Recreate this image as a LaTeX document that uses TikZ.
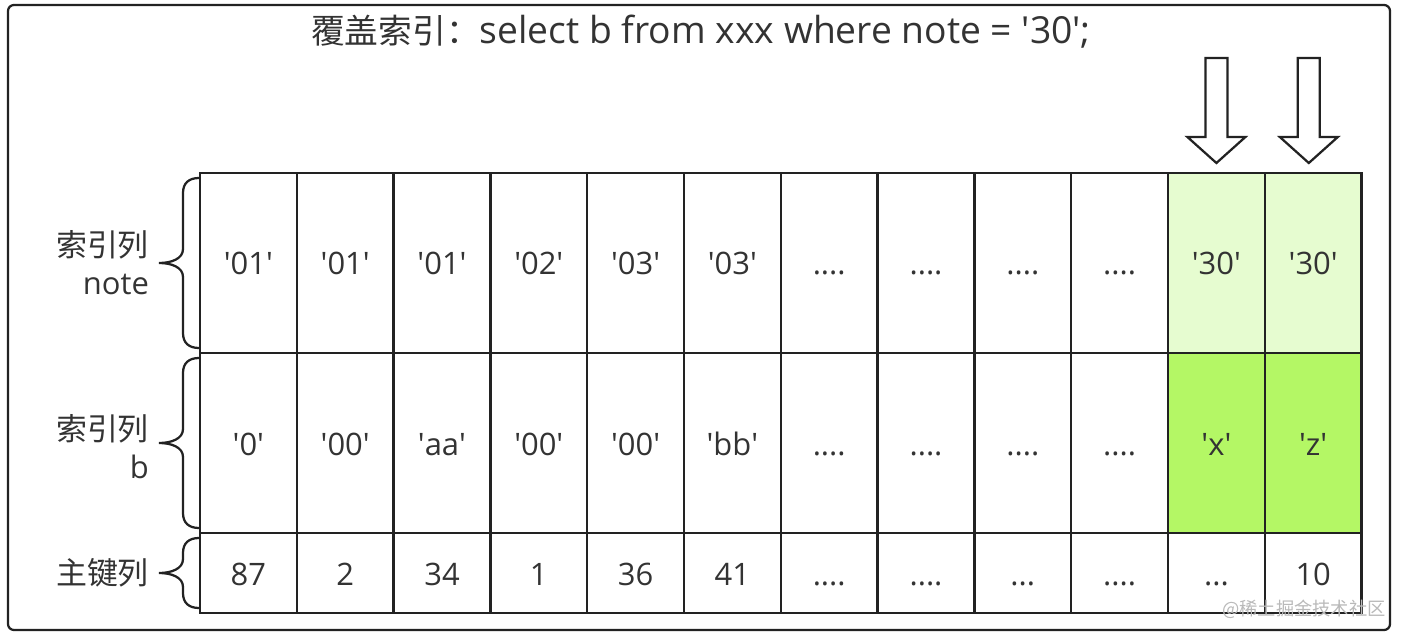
\documentclass[tikz,border=0pt]{standalone}
\usepackage{fontspec}
\setmainfont{Open Sans}
\newfontfamily\cjk{Noto Sans CJK SC}

\definecolor{ink}{HTML}{333333}
\definecolor{frame}{HTML}{222222}
\definecolor{hitlight}{HTML}{E6FCD0}
\definecolor{hitdark}{HTML}{B4F765}

\newcommand{\qt}[1]{\textquotesingle#1\textquotesingle}
\newcommand{\fourdots}{....}
\newcommand{\threedots}{...}

\tikzset{
	cell/.style={draw=frame, minimum width=24.2mm, inner sep=0pt, outer sep=0pt,
		text height=6mm, text depth=0pt, text=ink, font=\fontsize{22}{27}\selectfont},
	tallcell/.style={cell, minimum height=45mm},
	keycell/.style={cell, minimum height=20mm},
	rowlabel/.style={anchor=east, align=right, inner sep=0pt, text=ink,
		font=\fontsize{22}{27}\selectfont},
	bracepath/.style={draw=frame, line cap=round},
	hollowarrow/.style={draw=frame, fill=white, line join=miter},
}

\begin{document}
\begin{tikzpicture}[line cap=rect,line width=1.6pt]

\useasboundingbox (0,0) rectangle (350.75mm,159.25mm);

% Outer frame
\draw[draw=frame, rounded corners=1.5mm] (2mm,1.75mm) rectangle (347.5mm,158mm);

% Query title
\node[text=ink, font=\fontsize{26.5}{30}\selectfont] (title) at (175.25mm,151.25mm)
	{{\cjk\fontsize{24}{30}\selectfont 覆盖索引：}select b from xxx where note = \qt{30};};

% Index rows and key row
\begin{scope}[shift={(50mm,0)}]
	\foreach \val/\bg [count=\i] in
		{\qt{01}/white,\qt{01}/white,\qt{01}/white,\qt{02}/white,\qt{03}/white,\qt{03}/white,
		\fourdots/white,\fourdots/white,\fourdots/white,\fourdots/white,\qt{30}/hitlight,\qt{30}/hitlight}
	{
		\node[tallcell, fill=\bg] (n\i) at ({(\i-0.5)*24.2mm},93.5mm) {\val};
	}
	\foreach \val/\bg [count=\i] in
		{\qt{0}/white,\qt{00}/white,\qt{aa}/white,\qt{00}/white,\qt{00}/white,\qt{bb}/white,
		\fourdots/white,\fourdots/white,\fourdots/white,\fourdots/white,\qt{x}/hitdark,\qt{z}/hitdark}
	{
		\node[tallcell, fill=\bg] (b\i) at ({(\i-0.5)*24.2mm},48.5mm) {\val};
	}
	\foreach \val [count=\i] in
		{87,2,34,1,36,41,\fourdots,\fourdots,\threedots,\fourdots,\threedots,10}
	{
		\node[keycell] (k\i) at ({(\i-0.5)*24.2mm},16mm) {\val};
	}
\end{scope}

% Row braces
\foreach \r in {n1,b1,k1}
{
	\draw[bracepath] ([xshift=-0.25mm,yshift=-1.25mm]\r.north west)
		.. controls +(-2.5mm,0) and +(0,2.5mm) .. ([xshift=-4.25mm,yshift=-5mm]\r.north west)
		-- ([xshift=-4.25mm,yshift=3.5mm]\r.west)
		.. controls +(0,-2.5mm) and +(3mm,0) .. ([xshift=-10.25mm]\r.west)
		.. controls +(3mm,0) and +(0,2.5mm) .. ([xshift=-4.25mm,yshift=-3.5mm]\r.west)
		-- ([xshift=-4.25mm,yshift=5mm]\r.south west)
		.. controls +(0,-2.5mm) and +(-2.5mm,0) .. ([xshift=-0.25mm,yshift=1.25mm]\r.south west);
}

% Row labels
\node[rowlabel] (lnote) at ([xshift=-12.5mm]n1.west) {{\cjk 索引列}\\note};
\node[rowlabel] (lb) at ([xshift=-12.5mm,yshift=-0.9mm]b1.west) {{\cjk 索引列}\\b};
\node[rowlabel] (lkey) at ([xshift=-12.5mm]k1.west) {\cjk 主键列};

% Hit arrows
\foreach \c/\dx in {n11/0mm,n12/-1.1mm}
{
	\begin{scope}[shift={(\c.north)}, xshift=\dx, yshift=2.5mm]
		\draw[hollowarrow] (0,0) -- (7.25mm,6.5mm) -- (2.75mm,6.5mm) -- (2.75mm,26.25mm)
			-- (-2.75mm,26.25mm) -- (-2.75mm,6.5mm) -- (-7.25mm,6.5mm) -- cycle;
	\end{scope}
}

% Watermark
\node[text=gray!55, font=\fontsize{13}{13}\selectfont\cjk] (wmark) at (326mm,7mm) {@稀土掘金技术社区};

\end{tikzpicture}
\end{document}
